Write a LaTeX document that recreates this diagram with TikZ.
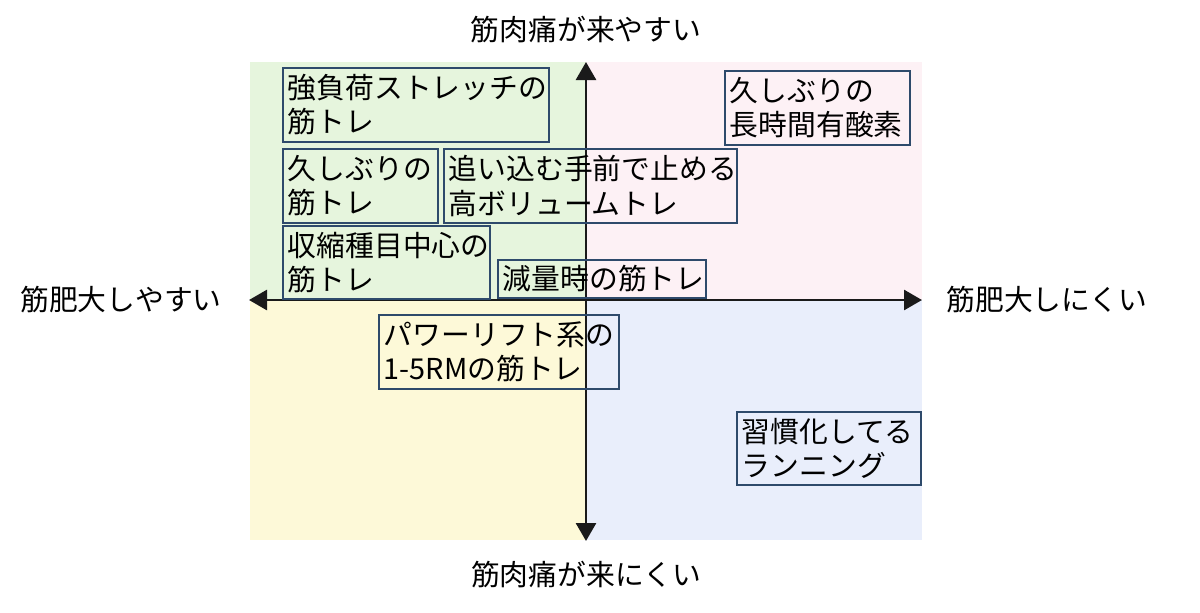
\documentclass[tikz,border=0pt]{standalone}
\usepackage{fontspec}
\setmainfont{Noto Sans CJK JP}
\usetikzlibrary{arrows.meta}
\definecolor{qtl}{HTML}{E6F5DD}
\definecolor{qtr}{HTML}{FDF1F5}
\definecolor{qbl}{HTML}{FDF9D8}
\definecolor{qbr}{HTML}{E9EEFB}
\definecolor{bordc}{HTML}{2E4A6B}
\definecolor{axc}{HTML}{1A1A1A}
\tikzset{
  lbl/.style={draw=bordc, line width=0.8pt, anchor=north west, align=left, inner xsep=2.5pt, inner ysep=0pt, font=\fontsize{14.4}{17.2}\selectfont},
  axlbl/.style={font=\fontsize{14.4}{17.2}\selectfont, text=black},
  axis/.style={draw=axc, line width=1.4pt, {Triangle[width=10pt,length=9pt]}-{Triangle[width=10pt,length=9pt]}}
}
\begin{document}
\begin{tikzpicture}[x=0.5pt,y=-0.5pt]
\useasboundingbox (0,0) rectangle (1200,612);
% quadrants
\fill[qtl] (250,62) rectangle (586,300);
\fill[qtr] (586,62) rectangle (922,300);
\fill[qbl] (250,300) rectangle (586,540);
\fill[qbr] (586,300) rectangle (922,540);
% axes
\coordinate (top) at (586,62);
\coordinate (bot) at (586,541);
\coordinate (lft) at (249,300);
\coordinate (rgt) at (922,300);
\draw[axis] (bot) -- (top);
\draw[axis] (lft) -- (rgt);
% axis labels
\node[axlbl] (ltop) at (586,30) {筋肉痛が来やすい};
\node[axlbl] (lbot) at (586,575) {筋肉痛が来にくい};
\node[axlbl] (llft) at (121,300) {筋肥大しやすい};
\node[axlbl] (lrgt) at (1047,300) {筋肥大しにくい};
% boxes
\node[lbl, text width=128pt, minimum height=37pt] (b1) at (282,67) {強負荷ストレッチの\\筋トレ};
\node[lbl, text width=72.5pt, minimum height=37pt] (b2) at (282,148) {久しぶりの\\筋トレ};
\node[lbl, text width=141.5pt, minimum height=37pt] (b3) at (443,148) {追い込む手前で止める\\高ボリュームトレ};
\node[lbl, text width=98.5pt, minimum height=36.5pt] (b4) at (282,225) {収縮種目中心の\\筋トレ};
\node[lbl, text width=99pt, minimum height=19pt] (b5) at (497,259) {減量時の筋トレ};
\node[lbl, text width=87.5pt, minimum height=37pt] (b6) at (724,70) {久しぶりの\\長時間有酸素};
\node[lbl, text width=115pt, minimum height=37pt] (b7) at (378,314) {パワーリフト系の\\1-5RMの筋トレ};
\node[lbl, text width=87pt, minimum height=36.5pt] (b8) at (736,411) {習慣化してる\\ランニング};
\end{tikzpicture}
\end{document}
